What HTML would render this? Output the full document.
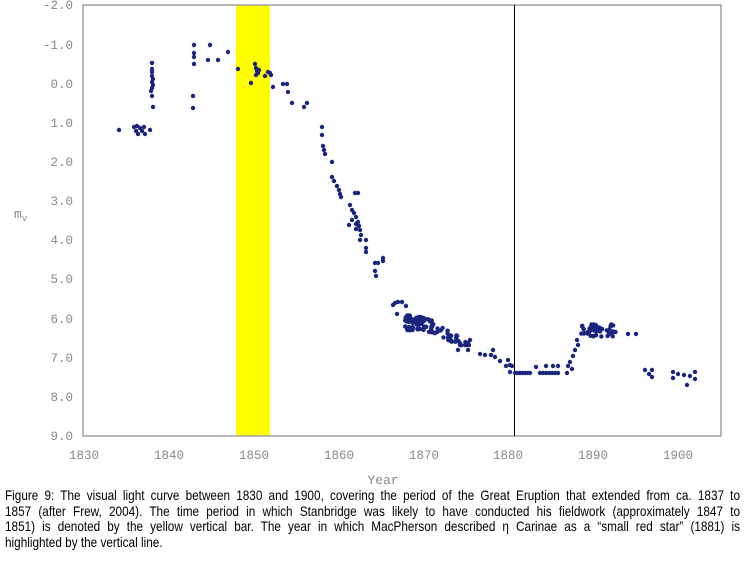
<!DOCTYPE html>
<html><head><meta charset="utf-8"><style>
body{margin:0;background:#fff;width:745px;height:564px;overflow:hidden;position:relative}
.cap{position:absolute;left:5px;top:488px;width:875px;font:14px/15.6px "Liberation Sans",Arial,sans-serif;color:#000;transform:scaleX(0.84);transform-origin:0 0;white-space:nowrap}
.cap div.j{text-align:justify;text-align-last:justify}
</style></head><body>
<svg id="s" width="745" height="564" style="position:absolute;left:0;top:0" font-family="Liberation Mono, monospace">
<rect x="236" y="5" width="34" height="431" fill="#ffff00"/>
<rect x="83" y="5" width="638" height="431" fill="none" stroke="#a0a0a0" stroke-width="1.5"/>
<line x1="514.5" y1="5" x2="514.5" y2="436" stroke="#000" stroke-width="1"/>
<g fill="#888" font-size="12.5" text-anchor="end">
<text x="73" y="9">-2.0</text><text x="73" y="49">-1.0</text><text x="73" y="88">0.0</text>
<text x="73" y="127">1.0</text><text x="73" y="166">2.0</text><text x="73" y="205">3.0</text>
<text x="73" y="244">4.0</text><text x="73" y="283">5.0</text><text x="73" y="323">6.0</text>
<text x="73" y="362">7.0</text><text x="73" y="401">8.0</text><text x="73" y="440">9.0</text>
</g>
<g fill="#888" font-size="12.5" text-anchor="middle">
<text x="84" y="459">1830</text><text x="169" y="459">1840</text><text x="254" y="459">1850</text>
<text x="339" y="459">1860</text><text x="424" y="459">1870</text><text x="508" y="459">1880</text>
<text x="593" y="459">1890</text><text x="678" y="459">1900</text>
<text x="383" y="484" font-size="13">Year</text>
</g>
<text x="14" y="218" fill="#888" font-size="13">m<tspan font-size="9" dy="3">v</tspan></text>
<g id="d" fill="#1a2580"></g>
</svg>
<div class="cap">
<div class="j">Figure 9: The visual light curve between 1830 and 1900, covering the period of the Great Eruption that extended from ca. 1837 to</div>
<div class="j">1857 (after Frew, 2004). The time period in which Stanbridge was likely to have conducted his fieldwork (approximately 1847 to</div>
<div class="j">1851) is denoted by the yellow vertical bar. The year in which MacPherson described η Carinae as a “small red star” (1881) is</div>
<div>highlighted by the vertical line.</div>
</div>
<script>
var P=[[119,130],[134,127],[136,131],[138,134],[140,128],[142,131],[144,127],[145,134],[137,126],[150,130],
[152,63],[152,69],[152,72],[152,76],[153,79],[152,82],[153,85],[152,88],[151,91],[152,96],[153,107],
[194,45],[194,53],[194,57],[194,64],[193,96],[193,108],[210,45],[208,60],[218,60],[228,52],[238,69],
[251,83],[255,64],[256,68],[257,71],[256,75],[258,73],[259,70],[265,76],[270,73],[268,72],[271,75],
[273,87],[283,84],[287,84],[288,92],[292,103],[304,107],[307,103],
[322,127],[322,135],[323,146],[324,150],[325,154],[332,162],[332,177],[334,181],[337,186],[339,190],[340,194],[341,197],
[355,193],[358,193],[350,205],[352,210],[354,213],[356,217],[358,222],[359,226],[360,230],[361,235],[360,240],[356,224],[349,225],[352,220],[356,229],
[366,240],[366,248],[366,252],[375,263],[378,263],[375,271],[376,276],[383,261],[383,258],
[393,305],[395,303],[398,302],[402,302],[406,306],[397,314],
[458,350],[460,345],[468,343],[470,340],[468,350],[480,354],[485,355],[491,355],[493,350],[495,357],[500,361],[506,366],[510,372],
[508,360],[510,365],[512,366],[536,367],[546,366],[553,366],[558,366],[568,366],[570,362],[572,369],
[573,356],[575,350],[578,345],[577,340],[628,334],[636,334],
[645,370],[652,370],[652,377],[649,374],[673,372],[673,378],[678,374],[684,375],[687,385],[690,376],[695,372],[695,379]];
for(var x=515;x<=531;x+=2.5)P.push([x,373]);
for(var x=540;x<=558;x+=3)P.push([x,373]);
P.push([567,373]);
var seed=7;function r(){seed=(seed*9301+49297)%233280;return seed/233280;}
for(var i=0;i<70;i++){var x=405+r()*28,y=315+r()*15+(x-405)*0.1;P.push([x,y]);}
for(var i=0;i<35;i++){var x=430+r()*40,y=322+(x-430)*0.45+r()*10;P.push([x,y]);}
for(var i=0;i<45;i++){var x=579+r()*38,y=324+r()*13;P.push([x,y]);}
var g=document.getElementById('d'),h='';
P.forEach(function(p){h+='<circle cx="'+p[0].toFixed(1)+'" cy="'+p[1].toFixed(1)+'" r="2.2"/>';});
g.innerHTML=h;
</script>
</body></html>
